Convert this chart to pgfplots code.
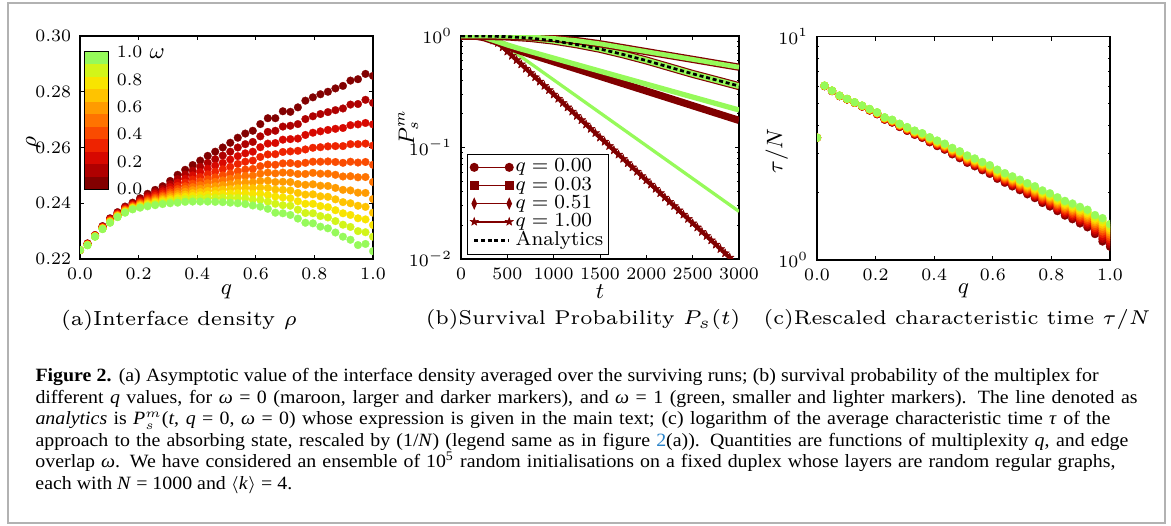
\documentclass[border=0pt]{standalone}
\usepackage{fontspec}
\usepackage{graphicx}
\usepackage{pgfplots}
\usepackage{pgfplotstable}
\pgfplotsset{compat=1.18}
\newfontfamily\capfont[FakeStretch=1.06]{Liberation Serif}

\definecolor{w0}{RGB}{130,0,0}
\definecolor{w1}{RGB}{175,0,0}
\definecolor{w2}{RGB}{215,8,0}
\definecolor{w3}{RGB}{238,35,0}
\definecolor{w4}{RGB}{250,75,0}
\definecolor{w5}{RGB}{255,115,0}
\definecolor{w6}{RGB}{255,155,0}
\definecolor{w7}{RGB}{255,195,0}
\definecolor{w8}{RGB}{248,228,0}
\definecolor{w9}{RGB}{210,245,25}
\definecolor{w10}{RGB}{150,250,90}
\definecolor{mar}{RGB}{128,0,0}
\definecolor{lgr}{RGB}{150,250,90}
\definecolor{capblue}{RGB}{40,130,200}

\newcommand{\tfont}{\fontsize{7}{7.5}\selectfont}
\newcommand{\lfont}{\fontsize{9}{11}\selectfont}

\pgfdeclareplotmark{fstar}{%
 \pgfpathmoveto{\pgfpointpolar{90}{1.2\pgfplotmarksize}}%
 \pgfpathlineto{\pgfpointpolar{126}{0.5\pgfplotmarksize}}%
 \pgfpathlineto{\pgfpointpolar{162}{1.2\pgfplotmarksize}}%
 \pgfpathlineto{\pgfpointpolar{198}{0.5\pgfplotmarksize}}%
 \pgfpathlineto{\pgfpointpolar{234}{1.2\pgfplotmarksize}}%
 \pgfpathlineto{\pgfpointpolar{270}{0.5\pgfplotmarksize}}%
 \pgfpathlineto{\pgfpointpolar{306}{1.2\pgfplotmarksize}}%
 \pgfpathlineto{\pgfpointpolar{342}{0.5\pgfplotmarksize}}%
 \pgfpathlineto{\pgfpointpolar{18}{1.2\pgfplotmarksize}}%
 \pgfpathlineto{\pgfpointpolar{54}{0.5\pgfplotmarksize}}%
 \pgfpathclose
 \pgfusepathqfillstroke}

\pgfplotstableread{
q w0 w1 w2 w3 w4 w5 w6 w7 w8 w9 w10
0.00000 .2232 .2232 .2232 .2232 .2232 .2232 .2232 .2232 .2232 .2232 .2232
0.02564 .2256 .2255 .2254 .2253 .2252 .2252 .2251 .2251 .2250 .2250 .2249
0.05128 .2286 .2285 .2284 .2284 .2283 .2282 .2282 .2281 .2281 .2280 .2280
0.07692 .2318 .2316 .2315 .2314 .2312 .2311 .2310 .2310 .2309 .2308 .2307
0.10256 .2346 .2344 .2342 .2340 .2338 .2336 .2335 .2334 .2332 .2331 .2330
0.12821 .2368 .2365 .2363 .2361 .2359 .2357 .2356 .2354 .2353 .2351 .2350
0.15385 .2388 .2385 .2382 .2379 .2377 .2375 .2373 .2371 .2369 .2368 .2366
0.17949 .2402 .2398 .2395 .2392 .2390 .2388 .2385 .2384 .2382 .2380 .2378
0.20513 .2418 .2413 .2408 .2404 .2401 .2398 .2395 .2392 .2389 .2387 .2384
0.23077 .2434 .2427 .2421 .2416 .2411 .2407 .2403 .2399 .2396 .2393 .2389
0.25641 .2448 .2440 .2433 .2426 .2420 .2415 .2410 .2406 .2402 .2397 .2393
0.28205 .2461 .2451 .2443 .2435 .2428 .2423 .2417 .2412 .2407 .2402 .2397
0.30769 .2480 .2468 .2458 .2448 .2439 .2432 .2425 .2418 .2412 .2406 .2400
0.33333 .2502 .2487 .2474 .2462 .2451 .2442 .2433 .2425 .2418 .2410 .2402
0.35897 .2520 .2503 .2488 .2474 .2461 .2451 .2441 .2431 .2423 .2414 .2405
0.38462 .2537 .2517 .2500 .2485 .2470 .2458 .2447 .2436 .2426 .2416 .2406
0.41026 .2553 .2531 .2512 .2494 .2478 .2465 .2452 .2440 .2429 .2418 .2406
0.43590 .2570 .2545 .2524 .2504 .2486 .2472 .2457 .2444 .2431 .2419 .2406
0.46154 .2585 .2558 .2535 .2513 .2493 .2477 .2461 .2446 .2433 .2419 .2405
0.48718 .2600 .2571 .2545 .2522 .2500 .2482 .2465 .2449 .2434 .2420 .2404
0.51282 .2617 .2585 .2557 .2531 .2507 .2488 .2469 .2451 .2435 .2419 .2402
0.53846 .2635 .2600 .2569 .2541 .2515 .2494 .2473 .2454 .2436 .2419 .2400
0.56410 .2650 .2612 .2579 .2549 .2521 .2498 .2475 .2455 .2436 .2417 .2397
0.58974 .2660 .2620 .2585 .2553 .2523 .2499 .2475 .2454 .2434 .2413 .2392
0.61538 .2684 .2640 .2601 .2566 .2533 .2506 .2480 .2456 .2434 .2412 .2388
0.64103 .2705 .2656 .2614 .2575 .2539 .2510 .2481 .2455 .2430 .2406 .2380
0.66667 .2705 .2660 .2616 .2576 .2538 .2507 .2476 .2449 .2424 .2398 .2366
0.69231 .2730 .2675 .2628 .2584 .2543 .2510 .2477 .2448 .2421 .2393 .2364
0.71795 .2728 .2678 .2630 .2586 .2544 .2509 .2476 .2446 .2418 .2391 .2358
0.74359 .2744 .2684 .2632 .2588 .2541 .2505 .2469 .2437 .2407 .2377 .2345
0.76923 .2768 .2702 .2645 .2593 .2545 .2505 .2466 .2431 .2398 .2365 .2330
0.79487 .2780 .2712 .2653 .2599 .2549 .2509 .2468 .2432 .2398 .2364 .2328
0.82051 .2791 .2720 .2658 .2601 .2549 .2506 .2463 .2425 .2390 .2354 .2316
0.84615 .2800 .2727 .2663 .2604 .2550 .2506 .2462 .2423 .2386 .2349 .2310
0.87179 .2812 .2734 .2667 .2605 .2548 .2502 .2455 .2414 .2375 .2336 .2295
0.89744 .2821 .2740 .2670 .2605 .2545 .2496 .2448 .2404 .2364 .2323 .2280
0.92308 .2840 .2754 .2680 .2612 .2549 .2497 .2446 .2400 .2358 .2315 .2269
0.94872 .2845 .2756 .2683 .2612 .2546 .2493 .2438 .2391 .2346 .2300 .2250
0.97436 .2864 .2771 .2688 .2614 .2548 .2494 .2437 .2387 .2342 .2296 .2254
1.00000 .2857 .2760 .2683 .2607 .2538 .2476 .2415 .2366 .2322 .2280 .2228
}\tabA

\pgfplotstableread{
q w0 w1 w2 w3 w4 w5 w6 w7 w8 w9 w10
0.00000 3.53 3.53 3.53 3.53 3.53 3.53 3.53 3.53 3.53 3.53 3.53
0.02564 6.010 6.013 6.016 6.019 6.022 6.025 6.028 6.031 6.034 6.037 6.040
0.05128 5.710 5.713 5.716 5.719 5.722 5.725 5.728 5.731 5.734 5.737 5.740
0.07692 5.420 5.423 5.426 5.429 5.432 5.435 5.438 5.441 5.444 5.447 5.450
0.10256 5.240 5.243 5.246 5.249 5.252 5.255 5.258 5.261 5.264 5.267 5.270
0.12821 5.055 5.059 5.062 5.066 5.069 5.073 5.076 5.080 5.083 5.087 5.090
0.15385 4.864 4.870 4.875 4.881 4.886 4.892 4.898 4.903 4.909 4.914 4.920
0.17949 4.674 4.682 4.689 4.697 4.704 4.712 4.720 4.727 4.735 4.742 4.750
0.20513 4.496 4.505 4.515 4.524 4.534 4.543 4.552 4.562 4.571 4.581 4.590
0.23077 4.251 4.262 4.273 4.284 4.295 4.306 4.316 4.327 4.338 4.349 4.360
0.25641 4.125 4.138 4.150 4.163 4.175 4.188 4.200 4.213 4.225 4.238 4.250
0.28205 3.942 3.956 3.970 3.983 3.997 4.011 4.025 4.039 4.052 4.066 4.080
0.30769 3.789 3.804 3.819 3.834 3.849 3.865 3.880 3.895 3.910 3.925 3.940
0.33333 3.637 3.653 3.670 3.686 3.702 3.719 3.735 3.751 3.767 3.784 3.800
0.35897 3.525 3.543 3.560 3.578 3.595 3.613 3.630 3.648 3.665 3.683 3.700
0.38462 3.367 3.385 3.404 3.422 3.440 3.459 3.477 3.495 3.513 3.532 3.550
0.41026 3.238 3.257 3.276 3.296 3.315 3.334 3.353 3.372 3.392 3.411 3.430
0.43590 3.120 3.140 3.160 3.180 3.200 3.220 3.240 3.260 3.280 3.300 3.320
0.46154 2.975 2.996 3.016 3.037 3.057 3.078 3.098 3.119 3.139 3.160 3.180
0.48718 2.858 2.879 2.900 2.922 2.943 2.964 2.985 3.006 3.028 3.049 3.070
0.51282 2.725 2.747 2.768 2.790 2.811 2.833 2.854 2.876 2.897 2.919 2.940
0.53846 2.629 2.651 2.673 2.695 2.717 2.740 2.762 2.784 2.806 2.828 2.850
0.56410 2.525 2.548 2.570 2.593 2.615 2.638 2.660 2.683 2.705 2.728 2.750
0.58974 2.431 2.454 2.477 2.500 2.523 2.546 2.568 2.591 2.614 2.637 2.660
0.61538 2.311 2.334 2.357 2.380 2.403 2.426 2.448 2.471 2.494 2.517 2.540
0.64103 2.219 2.242 2.265 2.288 2.311 2.335 2.358 2.381 2.404 2.427 2.450
0.66667 2.137 2.160 2.184 2.207 2.230 2.254 2.277 2.300 2.323 2.347 2.370
0.69231 2.055 2.079 2.102 2.126 2.149 2.173 2.196 2.220 2.243 2.267 2.290
0.71795 1.970 1.994 2.018 2.042 2.066 2.090 2.114 2.138 2.162 2.186 2.210
0.74359 1.894 1.919 1.943 1.968 1.992 2.017 2.042 2.066 2.091 2.115 2.140
0.76923 1.802 1.827 1.852 1.876 1.901 1.926 1.951 1.976 2.000 2.025 2.050
0.79487 1.737 1.762 1.788 1.813 1.838 1.864 1.889 1.914 1.939 1.965 1.990
0.82051 1.656 1.681 1.707 1.732 1.758 1.783 1.808 1.834 1.859 1.885 1.910
0.84615 1.581 1.607 1.633 1.659 1.685 1.711 1.736 1.762 1.788 1.814 1.840
0.87179 1.523 1.550 1.576 1.603 1.630 1.657 1.683 1.710 1.737 1.763 1.790
0.89744 1.459 1.486 1.513 1.540 1.567 1.595 1.622 1.649 1.676 1.703 1.730
0.92308 1.401 1.429 1.457 1.485 1.513 1.541 1.568 1.596 1.624 1.652 1.680
0.94872 1.307 1.335 1.364 1.392 1.420 1.449 1.477 1.505 1.533 1.562 1.590
0.97436 1.210 1.243 1.276 1.309 1.342 1.375 1.408 1.441 1.474 1.507 1.540
1.00000 1.147 1.177 1.208 1.238 1.268 1.299 1.329 1.359 1.389 1.420 1.450
}\tabC

\pgfplotsset{
  every axis/.append style={
    scale only axis,
    axis line style={black, line width=0.5pt},
    every tick/.style={black, line width=0.4pt},
    major tick length=1.6pt, minor tick length=0.9pt,
    tick align=inside,
    tick label style={font=\tfont},
    label style={font=\lfont},
    clip marker paths=true,
  }
}

\begin{document}
\begin{tikzpicture}
\path[use as bounding box] (0,0) rectangle (468.4pt,-210.4pt);
\draw[black!30, line width=0.5pt] (3.2pt,-1.2pt) rectangle (466pt,-209.2pt);

% ---------------- (a)
\begin{axis}[at={(32pt,-103.6pt)}, anchor=south west, width=117.2pt, height=89.2pt,
  xmin=0, xmax=1, ymin=0.22, ymax=0.30,
  xtick={0,0.2,0.4,0.6,0.8,1}, ytick={0.22,0.24,0.26,0.28,0.30},
  scaled y ticks=false, scaled x ticks=false,
  xticklabel style={/pgf/number format/.cd, fixed, fixed zerofill, precision=1},
  yticklabel style={/pgf/number format/.cd, fixed, fixed zerofill, precision=2},
  xlabel={$q$}, ylabel={$\rho$},
  xlabel style={at={(axis description cs:0.5,-0.148)}, anchor=center},
  ylabel style={at={(axis description cs:-0.16,0.52)}, anchor=center},
]
\pgfplotsinvokeforeach{0,...,10}{
  \addplot[w#1, only marks, mark=*, mark size=1.55pt, mark options={fill=w#1, draw=w#1, line width=0.1pt}] table[x=q, y=w#1]{\tabA};
}
\end{axis}

% colorbar
\begin{axis}[at={(34pt,-75.6pt)}, anchor=south west, width=9.2pt, height=54.8pt,
  xmin=0, xmax=1, ymin=0, ymax=11, xtick=\empty,
  ytick={0,2.2,4.4,6.6,8.8,11}, yticklabels={0.0,0.2,0.4,0.6,0.8,1.0},
  ytick pos=right, yticklabel pos=right, major tick length=1.4pt,
  axis line style={black, line width=0.5pt},
]
\addplot[fill=w10, draw=none] coordinates {(0,11) (1,11)} \closedcycle;
\addplot[fill=w9, draw=none] coordinates {(0,10) (1,10)} \closedcycle;
\addplot[fill=w8, draw=none] coordinates {(0,9) (1,9)} \closedcycle;
\addplot[fill=w7, draw=none] coordinates {(0,8) (1,8)} \closedcycle;
\addplot[fill=w6, draw=none] coordinates {(0,7) (1,7)} \closedcycle;
\addplot[fill=w5, draw=none] coordinates {(0,6) (1,6)} \closedcycle;
\addplot[fill=w4, draw=none] coordinates {(0,5) (1,5)} \closedcycle;
\addplot[fill=w3, draw=none] coordinates {(0,4) (1,4)} \closedcycle;
\addplot[fill=w2, draw=none] coordinates {(0,3) (1,3)} \closedcycle;
\addplot[fill=w1, draw=none] coordinates {(0,2) (1,2)} \closedcycle;
\addplot[fill=w0, draw=none] coordinates {(0,1) (1,1)} \closedcycle;
\end{axis}
\node[anchor=west, font=\lfont, inner sep=0pt] at (59.6pt,-21.4pt) {$\omega$};

% ---------------- (b)
\begin{axis}[at={(184.4pt,-103.6pt)}, anchor=south west, width=111.2pt, height=89.2pt,
  xmin=0, xmax=3000, ymode=log, ymin=0.01, ymax=1,
  xtick={0,500,1000,1500,2000,2500,3000}, ytick={0.01,0.1,1},
  scaled x ticks=false,
  xticklabel style={/pgf/number format/1000 sep={}},
  xlabel={$t$}, ylabel={$P_s^m$},
  xlabel style={at={(axis description cs:0.5,-0.148)}, anchor=center},
  ylabel style={at={(axis description cs:-0.19,0.59)}, anchor=center},
  legend image code/.code={\draw[#1, mark repeat=1, mark phase=1] plot coordinates {(0pt,0pt) (14pt,0pt)};},
  legend style={at={(0.022,0.018)}, anchor=south west, draw=black, line width=0.5pt, fill=white,
     font=\fontsize{8}{8}\selectfont, inner xsep=1pt, inner ysep=1.6pt, row sep=0pt,
     nodes={inner xsep=1pt, inner ysep=0.3pt}},
  legend cell align=left,
]
\addlegendimage{mar, line width=0.6pt, mark=*, mark size=1.5pt}
\addlegendentry{$q = 0.00$}
\addlegendimage{mar, line width=0.6pt, mark=square*, mark size=1.5pt}
\addlegendentry{$q = 0.03$}
\addlegendimage{mar, line width=0.6pt, mark=diamond*, mark size=1.8pt, mark options={xscale=0.6}}
\addlegendentry{$q = 0.51$}
\addlegendimage{mar, line width=0.6pt, mark=fstar, mark size=1.4pt, mark options={line width=0.2pt}}
\addlegendentry{$q = 1.00$}
\addlegendimage{black, line width=1.1pt, dash pattern=on 1.6pt off 1.1pt}
\addlegendentry{Analytics}

% q = 1.00
\addplot[forget plot, lgr, line width=1.3pt, line join=round] coordinates {(0,1)(250,1)(300,0.977)(400,0.912)(1000,0.404)(2000,0.1038)(3000,0.0267)};
\addplot[forget plot, mar, line width=1.4pt, line join=round, mark=fstar, mark size=1.5pt, mark options={fill=mar, line width=0.2pt}] coordinates {
(0,1)(50,1)(100,1)(150,1)(200,1)(250,0.989)(300,0.955)(350,0.912)(400,0.867)(450,0.793)
(500,0.726)(550,0.665)(600,0.608)(650,0.557)(700,0.509)(750,0.466)(800,0.427)(850,0.390)(900,0.357)(950,0.327)
(1000,0.299)(1050,0.274)(1100,0.251)(1150,0.229)(1200,0.210)(1250,0.192)(1300,0.176)(1350,0.161)(1400,0.147)(1450,0.1348)
(1500,0.123)(1550,0.1128)(1600,0.1033)(1650,0.0945)(1700,0.0865)(1750,0.0792)(1800,0.0724)(1850,0.0663)(1900,0.0607)(1950,0.0555)
(2000,0.0508)(2050,0.0465)(2100,0.0426)(2150,0.0390)(2200,0.0356)(2250,0.0326)(2300,0.0299)(2350,0.0273)(2400,0.0250)(2450,0.0229)
(2500,0.0209)(2550,0.0192)(2600,0.0175)(2650,0.0161)(2700,0.0147)(2750,0.01346)(2800,0.0123)(2850,0.01127)(2900,0.0103)(2950,0.00943)(3000,0.00863)};
% q = 0.51
\addplot[forget plot, mar, line width=2.9pt, line join=round] coordinates {(0,1)(150,1)(250,0.966)(375,0.891)(500,0.804)(625,0.741)(750,0.684)(1500,0.435)(2250,0.276)(3000,0.175)};
\addplot[forget plot, lgr, line width=2.1pt, line join=round] coordinates {(0,1)(150,1)(250,0.973)(375,0.902)(500,0.832)(625,0.773)(750,0.724)(1500,0.484)(2250,0.324)(3000,0.217)};
% q = 0.00
\addplot[forget plot, mar, line width=3.2pt, line join=round] coordinates {(0,1)(250,1)(500,0.989)(750,0.959)(1000,0.908)(1250,0.841)(1500,0.767)(1750,0.684)(2000,0.603)(2250,0.525)(2500,0.457)(2750,0.403)(3000,0.355)};
\addplot[forget plot, lgr, line width=2.3pt, line join=round] coordinates {(0,1)(250,1)(500,0.989)(750,0.959)(1000,0.908)(1250,0.841)(1500,0.767)(1750,0.684)(2000,0.603)(2250,0.525)(2500,0.457)(2750,0.403)(3000,0.355)};
% q = 0.03
\addplot[forget plot, mar, line width=2.9pt, line join=round] coordinates {(0,1)(250,1)(500,0.995)(750,0.979)(1000,0.951)(1250,0.908)(1500,0.851)(1750,0.785)(2000,0.724)(2250,0.668)(2500,0.617)(2750,0.569)(3000,0.525)};
\addplot[forget plot, lgr, line width=1.9pt, line join=round] coordinates {(0,1)(250,1)(500,0.995)(750,0.979)(1000,0.951)(1250,0.908)(1500,0.851)(1750,0.785)(2000,0.724)(2250,0.668)(2500,0.617)(2750,0.569)(3000,0.525)};
% analytics
\addplot[forget plot, black, line width=1.1pt, dash pattern=on 1.6pt off 1.1pt] coordinates {(0,1)(250,0.999)(500,0.987)(750,0.957)(1000,0.905)(1250,0.838)(1500,0.765)(1750,0.683)(2000,0.602)(2250,0.525)(2500,0.458)(2750,0.404)(3000,0.356)};
\end{axis}

% ---------------- (c)
\begin{axis}[at={(326.8pt,-104pt)}, anchor=south west, width=117.2pt, height=89.3pt,
  xmin=0, xmax=1, ymode=log, ymin=1, ymax=10,
  xtick={0,0.2,0.4,0.6,0.8,1}, ytick={1,10},
  scaled x ticks=false,
  xticklabel style={/pgf/number format/.cd, fixed, fixed zerofill, precision=1},
  xlabel={$q$}, ylabel={$\tau/N$},
  xlabel style={at={(axis description cs:0.5,-0.14)}, anchor=center},
  ylabel style={at={(axis description cs:-0.137,0.489)}, anchor=center},
]
\pgfplotsinvokeforeach{0,...,10}{
  \addplot[w#1, only marks, mark=*, mark size=1.6pt, mark options={fill=w#1, draw=w#1, line width=0.1pt}] table[x=q, y=w#1]{\tabC};
}
\end{axis}

% sub captions
\node at (71.6pt,-128pt) {\scalebox{1.36}{\fontsize{6}{7}\selectfont (a)Interface density $\rho$}};
\node at (233.2pt,-128pt) {\scalebox{1.333}{\fontsize{6}{7}\selectfont (b)Survival Probability $P_s(t)$}};
\node at (382.8pt,-128pt) {\scalebox{1.333}{\fontsize{6}{7}\selectfont (c)Rescaled characteristic time $\tau/N$}};

% caption
\node[anchor=base west, inner sep=0pt] at (14pt,-152.8pt) {\parbox[t]{450pt}{\capfont\fontsize{7.5}{8.6}\selectfont\lineskiplimit=-20pt\parindent=0pt
\makebox[425.2pt][s]{\textbf{Figure 2.} (a) Asymptotic value of the interface density averaged over the surviving runs; (b) survival probability of the multiplex for}\\
\makebox[440.8pt][s]{different \textit{q} values, for \textit{ω} = 0 (maroon, larger and darker markers), and \textit{ω} = 1 (green, smaller and lighter markers). The line denoted as}\\
\makebox[430pt][s]{\textit{analytics} is \textit{P}$^{m}_{s}$(\textit{t}, \textit{q} = 0, \textit{ω} = 0) whose expression is given in the main text; (c) logarithm of the average characteristic time \textit{τ} of the}\\
\makebox[437.2pt][s]{approach to the absorbing state, rescaled by (1/\textit{N}) (legend same as in figure \textcolor{capblue}{2}(a)). Quantities are functions of multiplexity \textit{q}, and edge}\\
\makebox[432pt][s]{overlap \textit{ω}. We have considered an ensemble of 10\textsuperscript{5} random initialisations on a fixed duplex whose layers are random regular graphs,}\\
each with \textit{N} = 1000 and $\langle$\textit{k}$\rangle$ = 4.}};
\end{tikzpicture}
\end{document}
